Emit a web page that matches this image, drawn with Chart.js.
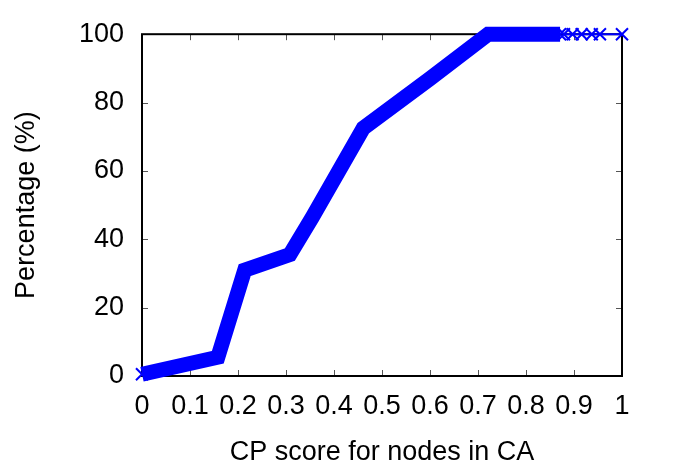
<!DOCTYPE html>
<html lang="en">
<head>
    <meta charset="UTF-8">
    <title>CP score CDF</title>
    <script src="https://cdn.jsdelivr.net/npm/chart.js"></script>
    <style>
        html, body {
            margin: 0;
            padding: 0;
            background: white;
        }
        #wrap {
            width: 675px;
            height: 470px;
        }
    </style>
</head>
<body>
    <div id="wrap"><canvas id="cpChart"></canvas></div>

    <script>
        // values
        const cpScore = [0, 0.158, 0.214, 0.308, 0.355, 0.461, 0.60, 0.721, 0.871];
        const percent = [0.5, 5.5, 31, 35.5, 46.5, 72.5, 87, 100, 100];

        // sparse markers at the right end
        const tailScore = [0.879, 0.897, 0.916, 0.937, 0.954, 1.0];
        const tailPercent = [100, 100, 100, 100, 100, 100];

        const xTicks = [0, 0.1, 0.2, 0.3, 0.4, 0.5, 0.6, 0.7, 0.8, 0.9, 1];
        const yTicks = [0, 20, 40, 60, 80, 100];

        const blue = '#0000ff';
        const labelFont = { family: 'Liberation Sans, Arial, sans-serif', size: 27 };

        // frame around the plot with small inward ticks on all sides
        const framePlugin = {
            id: 'frame',
            beforeDatasetsDraw(chart) {
                const { ctx, chartArea: a, scales } = chart;
                ctx.save();
                ctx.strokeStyle = '#555';
                ctx.lineWidth = 1;
                ctx.beginPath();
                xTicks.forEach(v => {
                    const px = Math.round(scales.x.getPixelForValue(v)) + 0.5;
                    ctx.moveTo(px, a.bottom); ctx.lineTo(px, a.bottom - 6);
                    ctx.moveTo(px, a.top); ctx.lineTo(px, a.top + 6);
                });
                yTicks.forEach(v => {
                    const py = Math.round(scales.y.getPixelForValue(v)) + 0.5;
                    ctx.moveTo(a.left, py); ctx.lineTo(a.left + 6, py);
                    ctx.moveTo(a.right, py); ctx.lineTo(a.right - 6, py);
                });
                ctx.stroke();
                ctx.strokeStyle = 'black';
                ctx.lineWidth = 2;
                ctx.strokeRect(a.left, a.top, a.right - a.left, a.bottom - a.top);
                ctx.restore();
            }
        };

        // only the two ends of the dense band show a separate marker
        const bandRadius = cpScore.map((v, i) => (i === 0 || i === cpScore.length - 1) ? 8.5 : 0);

        const ctx = document.getElementById('cpChart').getContext('2d');
        new Chart(ctx, {
            type: 'scatter',
            data: {
                datasets: [{
                    data: cpScore.map((x, i) => ({ x, y: percent[i] })),
                    showLine: true,
                    borderColor: blue,
                    backgroundColor: blue,
                    borderWidth: 15,
                    pointStyle: 'crossRot',
                    pointRadius: bandRadius,
                    pointBorderWidth: 2,
                    pointBorderColor: blue,
                    clip: false
                }, {
                    data: tailScore.map((x, i) => ({ x, y: tailPercent[i] })),
                    showLine: true,
                    borderColor: blue,
                    borderWidth: 2,
                    pointStyle: 'crossRot',
                    pointRadius: 8.5,
                    pointBorderWidth: 2,
                    pointBorderColor: blue,
                    clip: false
                }]
            },
            options: {
                responsive: true,
                maintainAspectRatio: false,
                animation: false,
                layout: {
                    padding: { top: 33, right: 53, bottom: 0, left: 0 }
                },
                scales: {
                    x: {
                        type: 'linear',
                        min: 0,
                        max: 1,
                        afterBuildTicks: s => { s.ticks = xTicks.map(v => ({ value: v })); },
                        afterFit: s => { s.height = 94; },
                        grid: { display: false, drawTicks: false },
                        border: { display: false },
                        ticks: {
                            color: 'black',
                            font: labelFont,
                            padding: 14,
                            maxRotation: 0,
                            autoSkip: false,
                            callback: v => String(v)
                        },
                        title: {
                            display: true,
                            text: 'CP score for nodes in CA',
                            color: 'black',
                            font: labelFont,
                            padding: { top: 0, bottom: 1 }
                        }
                    },
                    y: {
                        type: 'linear',
                        min: 0,
                        max: 100,
                        afterBuildTicks: s => { s.ticks = yTicks.map(v => ({ value: v })); },
                        afterFit: s => { s.width = 142; },
                        grid: { display: false, drawTicks: false },
                        border: { display: false },
                        ticks: {
                            color: 'black',
                            font: labelFont,
                            padding: 18
                        },
                        title: {
                            display: true,
                            text: 'Percentage (%)',
                            color: 'black',
                            font: labelFont,
                            padding: { top: 10, bottom: 0 }
                        }
                    }
                },
                plugins: {
                    legend: { display: false },
                    tooltip: { enabled: false }
                }
            },
            plugins: [framePlugin]
        });
    </script>
</body>
</html>
